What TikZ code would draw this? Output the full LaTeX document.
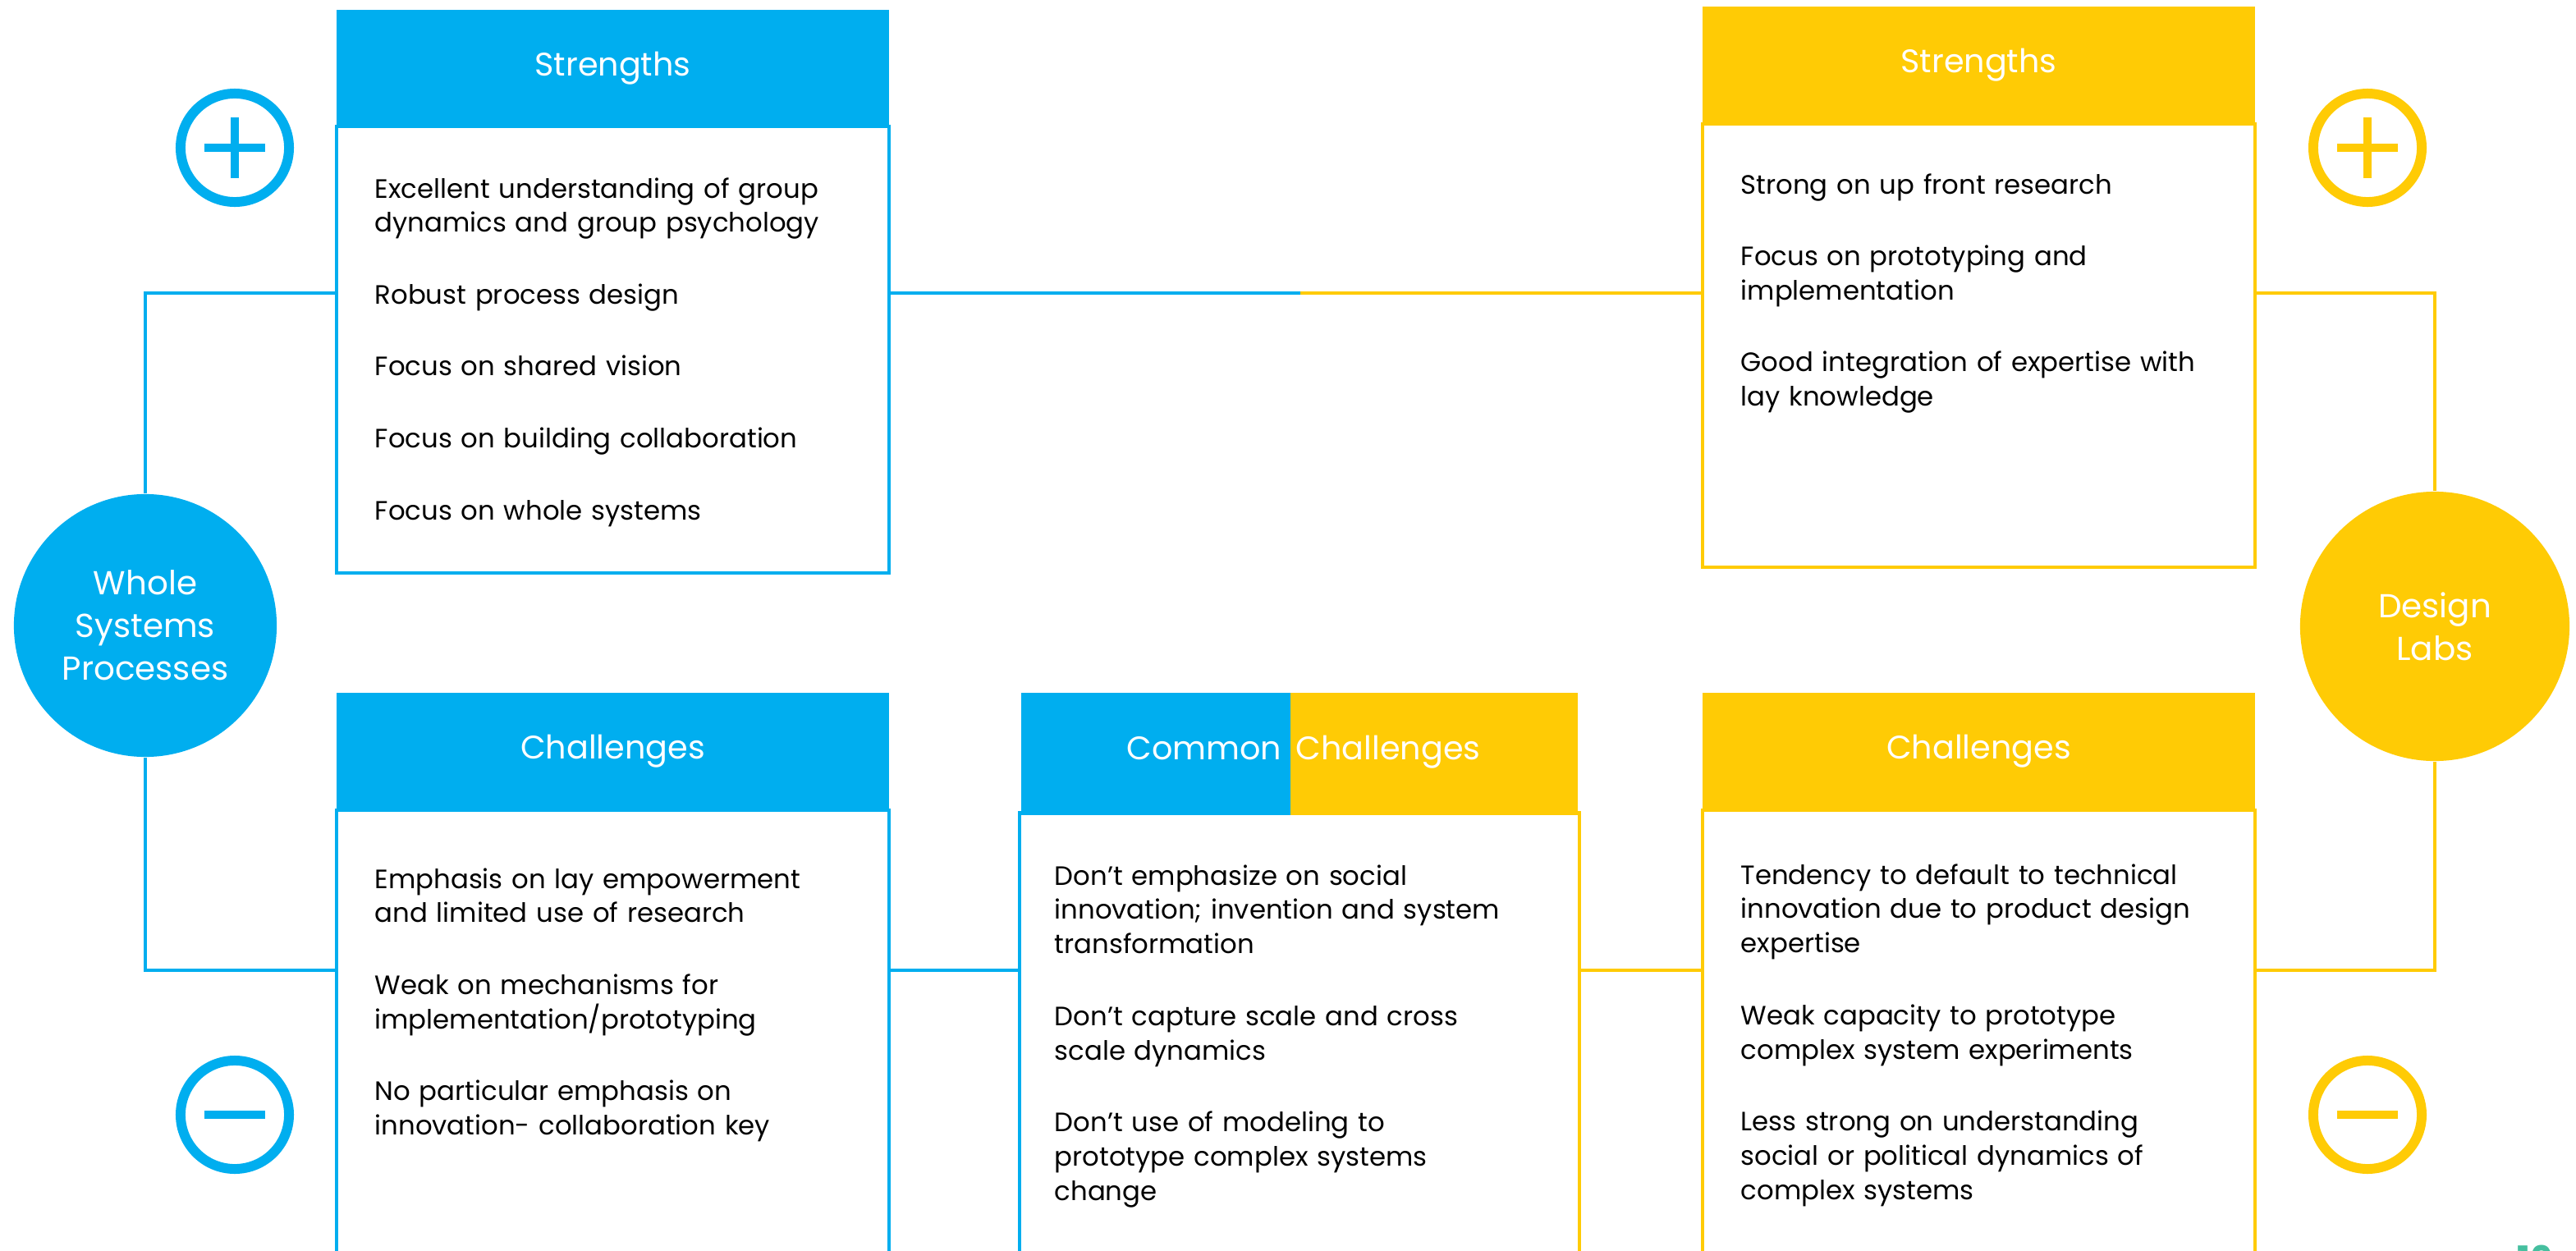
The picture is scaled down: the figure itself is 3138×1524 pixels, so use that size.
\documentclass[tikz,border=0pt]{standalone}
\usepackage{fontspec}
\setmainfont{Poppins}
\usepackage{xcolor}
\definecolor{wsblue}{HTML}{00AEEF}
\definecolor{dlyellow}{HTML}{FFCB05}
\definecolor{pagegreen}{HTML}{45BF9F}

\begin{document}
\begin{tikzpicture}[x=0.01cm,y=-0.01cm,
    head/.style={rectangle,minimum width=6.73cm,minimum height=1.42cm,inner sep=0pt,text=white,font=\fontsize{11.3}{13}\selectfont},
    body/.style={rectangle,draw,line width=1pt,minimum width=6.73cm,inner sep=0pt},
    items/.style={anchor=base west,text width=6.6cm,inner sep=0pt,align=left,font=\fontsize{9.2}{11.9}\selectfont},
    hub/.style={circle,inner sep=0pt,text=white,align=center,font=\fontsize{11.5}{14.8}\selectfont},
    sign/.style={circle,draw,minimum size=1.32cm,line width=3.4pt,inner sep=0pt},
    link/.style={line width=1.1pt}]

    \useasboundingbox (0,0) rectangle (3138,1524);

    % hubs
    \node[hub,fill=wsblue,minimum size=3.2cm] (ws) at (177,762) {Whole\\Systems\\Processes};
    \node[hub,fill=dlyellow,minimum size=3.28cm] (dl) at (2966,763) {Design\\Labs};

    % plus / minus signs
    \node[sign,wsblue] (wsplus) at (286,180) {};
    \node[sign,dlyellow] (dlplus) at (2884,180) {};
    \node[sign,wsblue] (wsminus) at (286,1358) {};
    \node[sign,dlyellow] (dlminus) at (2884,1358) {};
    \draw[wsblue,line width=2.8pt] ([xshift=-0.37cm]wsplus.center) -- ([xshift=0.37cm]wsplus.center);
    \draw[wsblue,line width=2.8pt] ([yshift=-0.37cm]wsplus.center) -- ([yshift=0.37cm]wsplus.center);
    \draw[dlyellow,line width=2.8pt] ([xshift=-0.37cm]dlplus.center) -- ([xshift=0.37cm]dlplus.center);
    \draw[dlyellow,line width=2.8pt] ([yshift=-0.37cm]dlplus.center) -- ([yshift=0.37cm]dlplus.center);
    \draw[wsblue,line width=2.8pt] ([xshift=-0.37cm]wsminus.center) -- ([xshift=0.37cm]wsminus.center);
    \draw[dlyellow,line width=2.8pt] ([xshift=-0.37cm]dlminus.center) -- ([xshift=0.37cm]dlminus.center);

    % boxes
    \node[body,draw=wsblue,minimum height=5.44cm] (ws-s) at (746.5,426) {};
    \node[head,fill=wsblue] (ws-sh) at (746.5,83) {Strengths};
    \node[body,draw=dlyellow,minimum height=5.40cm] (dl-s) at (2410.5,421) {};
    \node[head,fill=dlyellow,minimum height=1.43cm] (dl-sh) at (2410.5,79.5) {Strengths};
    \node[body,draw=wsblue,minimum height=5.73cm] (ws-c) at (746.5,1273.5) {};
    \node[head,fill=wsblue] (ws-ch) at (746.5,915.5) {Challenges};
    \node[body,draw=dlyellow,minimum height=5.73cm] (dl-c) at (2410.5,1273.5) {};
    \node[head,fill=dlyellow] (dl-ch) at (2410.5,915.5) {Challenges};

    % common box, half blue half yellow
    \node[body,draw=none,minimum width=6.78cm,minimum height=5.70cm] (cc) at (1583,1275) {};
    \draw[wsblue,line width=1pt] (cc.north west) -- (cc.south west);
    \draw[dlyellow,line width=1pt] (cc.north east) -- (cc.south east);
    \node[head,fill=wsblue,minimum width=3.28cm,minimum height=1.49cm] (cc-hl) at (1408,918.5) {};
    \node[head,fill=dlyellow,minimum width=3.50cm,minimum height=1.49cm] (cc-hr) at (1747,918.5) {};
    \node[text=white,anchor=base east,inner sep=0pt,font=\fontsize{11.3}{13}\selectfont] (cc-t1) at (1562,925) {Common};
    \node[text=white,anchor=base west,inner sep=0pt,font=\fontsize{11.3}{13}\selectfont] (cc-t2) at (1578,925) {Challenges};

    % texts
    \node[items] (ws-st) at (456,241) {Excellent understanding of group\\dynamics and group psychology\\[13pt]Robust process design\\[13pt]Focus on shared vision\\[13pt]Focus on building collaboration\\[13pt]Focus on whole systems};
    \node[items] (dl-st) at (2120,236) {Strong on up front research\\[13pt]Focus on prototyping and\\implementation\\[13pt]Good integration of expertise with\\lay knowledge};
    \node[items] (ws-ct) at (456,1082) {Emphasis on lay empowerment\\and limited use of research\\[13pt]Weak on mechanisms for\\implementation/prototyping\\[13pt]No particular emphasis on\\innovation- collaboration key};
    \node[items] (cc-t) at (1284,1078) {Don’t emphasize on social\\innovation; invention and system\\transformation\\[13pt]Don’t capture scale and cross\\scale dynamics\\[13pt]Don’t use of modeling to\\prototype complex systems\\change};
    \node[items] (dl-ct) at (2120,1077) {Tendency to default to technical\\innovation due to product design\\expertise\\[13pt]Weak capacity to prototype\\complex system experiments\\[13pt]Less strong on understanding\\social or political dynamics of\\complex systems};

    % connectors
    \coordinate (top) at (0,357);
    \coordinate (bot) at (0,1182);
    \coordinate (mid) at (1584,357);
    \draw[link,wsblue] (ws.north) |- (ws-s.west |- top);
    \draw[link,wsblue] (ws-s.east |- top) -- (mid);
    \draw[link,dlyellow] (mid) -- (dl-s.west |- top);
    \draw[link,dlyellow] (dl-s.east |- top) -| (dl.north);
    \draw[link,wsblue] (ws.south) |- (ws-c.west |- bot);
    \draw[link,wsblue] (ws-c.east |- bot) -- (cc.west |- bot);
    \draw[link,dlyellow] (cc.east |- bot) -- (dl-c.west |- bot);
    \draw[link,dlyellow] (dl-c.east |- bot) -| (dl.south);

    \node[anchor=north west,inner sep=0pt,text=pagegreen,font=\bfseries\fontsize{12}{14}\selectfont] (page) at (3066,1516) {10};
\end{tikzpicture}
\end{document}
